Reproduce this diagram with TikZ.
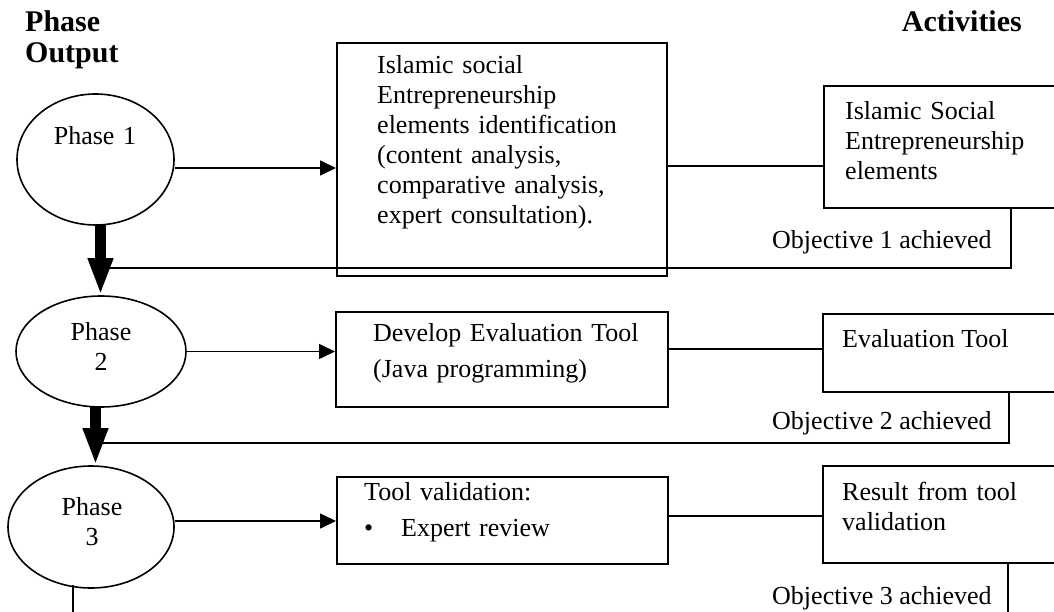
\documentclass[tikz,border=0pt]{standalone}
\usepackage{fontspec}
\setmainfont{Liberation Serif}
\usetikzlibrary{shapes.geometric,arrows.meta,calc}
\begin{document}
\begin{tikzpicture}[x=1pt,y=-1pt,
  txt/.style={inner sep=0pt, anchor=base west, font=\fontsize{26}{30}\selectfont, align=left},
  ctxt/.style={inner sep=0pt, anchor=base, font=\fontsize{26}{30}\selectfont, align=center, text width=120pt},
  hdr/.style={inner sep=0pt, font=\fontsize{30}{31}\selectfont\bfseries, align=left},
  box/.style={draw, line width=1.8pt, rectangle, inner sep=0pt, anchor=north west},
  phase/.style={draw, line width=1.6pt, ellipse, inner sep=0pt},
  conn/.style={line width=1.6pt},
  arr/.style={line width=1.6pt, -{Triangle[length=16pt,width=15pt]}},
  big/.style={line width=11pt, -{Triangle[length=37pt,width=23pt]}},
]
\useasboundingbox (0,0) rectangle (1054,612);
\clip (0,0) rectangle (1054,612);

% headers
\node[hdr, anchor=base west, text width=200pt] (hphase) at (25,32) {Phase\\Output};
\node[hdr, anchor=base east] (hact) at (1022,32) {Activities};

% phase ellipses
\node[phase, minimum width=157pt, minimum height=131pt] (e1) at (95.5,159.5) {};
\node[phase, minimum width=170pt, minimum height=111pt] (e2) at (101,351.5) {};
\node[phase, minimum width=166pt, minimum height=122pt] (e3) at (91,527) {};
\node[ctxt] (p1) at (95,145) {Phase 1};
\node[ctxt] (p2) at (101,340) {Phase\\2};
\node[ctxt] (p3) at (92,515) {Phase\\3};

% boxes
\node[box, minimum width=330pt, minimum height=233pt] (b1) at (336,42) {};
\node[box, minimum width=300pt, minimum height=122pt] (b3) at (823,85) {};
\node[box, minimum width=332pt, minimum height=95pt] (b2) at (335,311) {};
\node[box, minimum width=300pt, minimum height=78pt] (b4) at (822,313) {};
\node[box, minimum width=331pt, minimum height=87pt] (b5) at (336,476) {};
\node[box, minimum width=300pt, minimum height=97pt] (b6) at (822,465) {};

% box texts
\node[txt, text width=280pt] (t1) at (377,74) {Islamic social\\Entrepreneurship\\elements identification\\(content analysis,\\comparative analysis,\\expert consultation).};
\node[txt, text width=200pt] (t3) at (845,120) {Islamic Social\\Entrepreneurship\\elements};
\node[txt, text width=290pt] (t2) at (373,341) {Develop Evaluation Tool\\[6pt](Java programming)};
\node[txt] (t4) at (842,347) {Evaluation Tool};
\node[txt, text width=290pt] (t5) at (364,500) {Tool validation:\\[6pt]\makebox[37pt][l]{\textbullet}Expert review};
\node[txt, text width=200pt] (t6) at (842,500) {Result from tool\\validation};

% objective labels
\node[txt] (o1t) at (772,248) {Objective 1 achieved};
\node[txt] (o2t) at (772,429) {Objective 2 achieved};
\node[txt] (o3t) at (772,604) {Objective 3 achieved};

% coordinates
\coordinate (s1) at (100.5,268);
\coordinate (s2) at (95.5,443);
\coordinate (v1) at (1011,268);
\coordinate (v2) at (1009,443);
\coordinate (v3) at (1008,612);
\coordinate (v4) at (73,612);
\coordinate (v4a) at (73,585);
\coordinate (a1) at (b1.west |- 0,168);
\coordinate (a3) at (b5.west |- 0,521);

% thin connectors
\draw[arr] (e1.east |- a1) -- (a1);
\draw[conn] (b1.east |- 0,166) -- (b3.west |- 0,166);
\draw[conn] (v1 |- b3.south) -- (v1) -- (s1);

\draw[arr] (e2.east) -- (e2.east -| b2.west);
\draw[conn] (b2.east |- 0,349) -- (b4.west |- 0,349);
\draw[conn] (v2 |- b4.south) -- (v2) -- (s2);

\draw[arr] (e3.east |- a3) -- (a3);
\draw[conn] (b5.east |- 0,516) -- (b6.west |- 0,516);
\draw[conn] (v3 |- b6.south) -- (v3);
\draw[conn] (v4a) -- (v4);

% thick phase arrows
\draw[big] ($(s1 |- e1.south)+(0,-2)$) -- (s1 |- e2.north);
\draw[big] ($(s2 |- e2.south)+(0,-2)$) -- (s2 |- e3.north);
\end{tikzpicture}
\end{document}
